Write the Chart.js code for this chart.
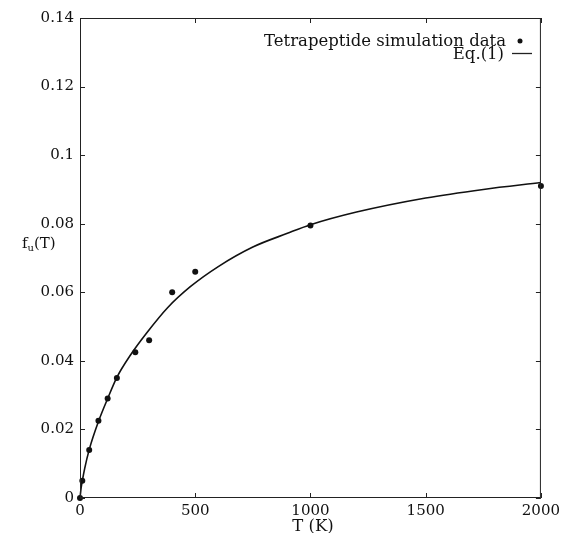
<!DOCTYPE html>
<html lang="en">
<head>
  <meta charset="UTF-8">
  <title>f_u(T)</title>
  <script src="https://cdn.jsdelivr.net/npm/chart.js"></script>
  <style>
    html, body { margin: 0; padding: 0; background: #fff; }
    #wrap { width: 564px; height: 533px; }
  </style>
</head>
<body>
  <div id="wrap"><canvas id="fuChart" width="564" height="533"></canvas></div>
  <script>
    // simulation points (T in K, f_u)
    const simT = [0, 10, 40, 80, 120, 160, 240, 300, 400, 500, 1000, 2000];
    const simF = [0, 0.005, 0.014, 0.0225, 0.029, 0.035, 0.0425, 0.046, 0.060, 0.066, 0.0795, 0.091];

    // Eq.(1) curve
    const eqT = [0, 5, 10, 20, 40, 80, 120, 160, 220, 290, 380, 480, 600, 750, 900, 1000, 1200, 1500, 1750, 2000];
    const eqF = [0, 0.003, 0.005, 0.0085, 0.0141, 0.0223, 0.029, 0.0352, 0.0418, 0.0482, 0.0555, 0.0617, 0.0675, 0.0732, 0.0772, 0.0797, 0.0834, 0.0875, 0.0900, 0.0920];

    const xTickLabels = ['0', '500', '1000', '1500', '2000'];
    const yTickLabels = ['0', '0.02', '0.04', '0.06', '0.08', '0.1', '0.12', '0.14'];

    const serif = '"DejaVu Serif", "Liberation Serif", serif';
    const ink = '#111';

    // frame, inward ticks, axis titles and legend
    const decorations = {
      id: 'decorations',
      afterDraw(chart) {
        const c = chart.ctx;
        const a = chart.chartArea;
        const xs = chart.scales.x, ys = chart.scales.y;
        c.save();
        c.strokeStyle = '#222';
        c.lineWidth = 1;
        c.strokeRect(a.left + 0.5, a.top + 0.5, a.right - a.left - 1, a.bottom - a.top - 1);
        c.beginPath();
        ys.ticks.forEach(t => {
          const py = Math.round(ys.getPixelForValue(t.value)) + 0.5;
          c.moveTo(a.left, py); c.lineTo(a.left + 5, py);
          c.moveTo(a.right, py); c.lineTo(a.right - 5, py);
        });
        xs.ticks.forEach(t => {
          const px = Math.round(xs.getPixelForValue(t.value)) + 0.5;
          c.moveTo(px, a.bottom); c.lineTo(px, a.bottom - 5);
          c.moveTo(px, a.top); c.lineTo(px, a.top + 5);
        });
        c.stroke();

        c.fillStyle = ink;
        // x title
        c.font = '16.5px ' + serif;
        c.textAlign = 'center';
        c.textBaseline = 'alphabetic';
        c.fillText('T (K)', 313, 531);
        // y title  f_u(T)
        c.textAlign = 'left';
        let x0 = 22, y0 = 248;
        c.font = '15px ' + serif;
        c.fillText('f', x0, y0);
        x0 += c.measureText('f').width;
        c.font = '10px ' + serif;
        c.fillText('u', x0, y0 + 3);
        x0 += c.measureText('u').width;
        c.font = '15px ' + serif;
        c.fillText('(T)', x0, y0);

        // legend
        c.textAlign = 'right';
        c.font = '16.5px ' + serif;
        c.fillText('Tetrapeptide simulation data', 506, 46);
        c.fillText('Eq.(1)', 504, 59);
        c.beginPath();
        c.arc(520, 41, 2.5, 0, Math.PI * 2);
        c.fill();
        c.beginPath();
        c.moveTo(512, 53.5); c.lineTo(532, 53.5);
        c.lineWidth = 1.3;
        c.stroke();
        c.restore();
      }
    };

    const ctx = document.getElementById('fuChart').getContext('2d');
    new Chart(ctx, {
      type: 'scatter',
      data: {
        datasets: [{
          label: 'Eq.(1)',
          data: eqT.map((t, i) => ({ x: t, y: eqF[i] })),
          showLine: true,
          borderColor: ink,
          borderWidth: 1.6,
          pointRadius: 0,
          cubicInterpolationMode: 'monotone',
          clip: false
        }, {
          label: 'Tetrapeptide simulation data',
          data: simT.map((t, i) => ({ x: t, y: simF[i] })),
          showLine: false,
          pointRadius: 3,
          pointBackgroundColor: ink,
          pointBorderColor: ink,
          pointBorderWidth: 0,
          clip: false
        }]
      },
      options: {
        responsive: false,
        animation: false,
        layout: { padding: { left: 0, top: 18, right: 18, bottom: 0 } },
        plugins: {
          legend: { display: false },
          tooltip: { enabled: false }
        },
        scales: {
          x: {
            type: 'linear',
            min: 0, max: 2000,
            afterFit(s) { s.height = 35; },
            grid: { display: false, drawTicks: false },
            border: { display: false },
            ticks: {
              stepSize: 500,
              padding: 4,
              color: ink,
              font: { family: serif, size: 15 },
              maxRotation: 0,
              callback: v => xTickLabels[Math.round(v / 500)]
            }
          },
          y: {
            min: 0, max: 0.14,
            afterFit(s) { s.width = 80; },
            grid: { display: false, drawTicks: false },
            border: { display: false },
            ticks: {
              stepSize: 0.02,
              padding: 6,
              color: ink,
              font: { family: serif, size: 15 },
              callback: v => yTickLabels[Math.round(v / 0.02)]
            }
          }
        }
      },
      plugins: [decorations]
    });
  </script>
</body>
</html>
